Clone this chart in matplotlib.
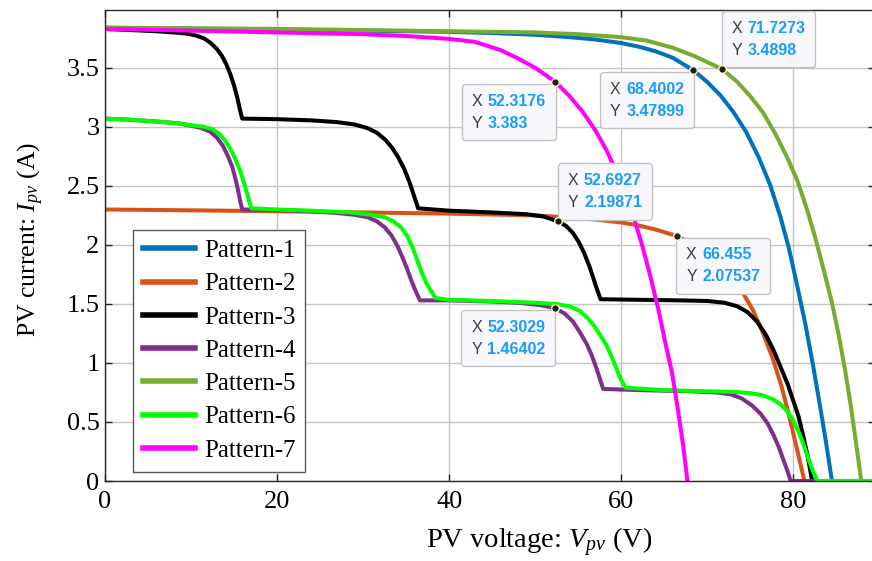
import numpy as np
import matplotlib
matplotlib.use('Agg')
import matplotlib.pyplot as plt
from matplotlib.offsetbox import TextArea, HPacker, VPacker, AnnotationBbox

plt.rcParams['font.family'] = 'Liberation Serif'
plt.rcParams['mathtext.fontset'] = 'custom'
plt.rcParams['mathtext.rm'] = 'Liberation Serif'
plt.rcParams['mathtext.it'] = 'Liberation Serif:italic'

# I-V curves under seven shading patterns (voltage V, current A)
v1 = [0, 10, 20, 30, 40, 45, 50, 54, 57, 60, 62, 64, 66, 68.4002, 70, 71.5, 73, 74.5, 76, 77.3,
      78.5, 79.5, 80.5, 81.4, 82.3, 83.1, 83.8, 84.5, 89.5]
i1 = [3.84, 3.832, 3.824, 3.815, 3.805, 3.795, 3.78, 3.76, 3.74, 3.71, 3.68, 3.64, 3.585, 3.47899, 3.38, 3.27, 3.13, 2.96, 2.74, 2.51,
      2.24, 1.97, 1.64, 1.33, 0.98, 0.64, 0.33, 0, 0]

v2 = [0, 10, 20, 30, 40, 50, 54, 57, 60, 62, 64, 66.455, 68, 69.5, 71, 72.5, 74, 75.3, 76.5, 77.6,
      78.6, 79.5, 80.4, 81.3, 89.5]
i2 = [2.30, 2.293, 2.285, 2.275, 2.265, 2.25, 2.232, 2.215, 2.19, 2.165, 2.13, 2.07537, 2.02, 1.95, 1.86, 1.75, 1.61, 1.45, 1.25, 1.04,
      0.81, 0.56, 0.28, 0, 0]

v3 = [0, 3, 6, 8, 9.5, 10.5, 11.5, 12.3, 13, 13.6, 14.1, 14.6, 15, 15.4, 15.7, 15.95,
      20, 24, 27, 29, 30.5, 31.6, 32.6, 33.4, 34.1, 34.8, 35.4, 35.9, 36.4,
      40, 45, 49, 51, 52.6927, 53.6, 54.4, 55.1, 55.7, 56.3, 56.8, 57.2, 57.6,
      62, 67, 70, 72, 73.5, 74.7, 75.8, 76.8, 77.7, 78.5, 79.3, 80, 80.6, 81.2, 81.7, 82.2, 89.5]
i3 = [3.83, 3.82, 3.81, 3.80, 3.79, 3.775, 3.75, 3.71, 3.66, 3.60, 3.53, 3.44, 3.35, 3.24, 3.14, 3.07,
      3.065, 3.055, 3.04, 3.02, 2.99, 2.95, 2.89, 2.82, 2.74, 2.64, 2.53, 2.42, 2.31,
      2.29, 2.275, 2.26, 2.24, 2.19871, 2.16, 2.10, 2.02, 1.93, 1.82, 1.71, 1.62, 1.54,
      1.535, 1.53, 1.525, 1.51, 1.48, 1.43, 1.35, 1.24, 1.11, 0.97, 0.83, 0.68, 0.55, 0.37, 0.20, 0, 0]

v4 = [0, 3, 6, 8.5, 10, 11.2, 12.2, 13, 13.7, 14.3, 14.8, 15.2, 15.5, 15.75, 15.95,
      20, 24, 27, 29, 30.5, 31.6, 32.5, 33.3, 34, 34.6, 35.1, 35.6, 36.1, 36.6,
      40, 45, 48, 50.6, 52.3029, 53.4, 54.4, 55.2, 56, 56.6, 57.1, 57.5, 57.9,
      62, 68, 71, 72.7, 74, 75.2, 76.2, 77, 77.7, 78.3, 78.8, 79.3, 79.7, 83]
i4 = [3.07, 3.06, 3.045, 3.03, 3.01, 2.99, 2.96, 2.91, 2.84, 2.75, 2.66, 2.55, 2.45, 2.36, 2.30,
      2.295, 2.285, 2.27, 2.255, 2.235, 2.20, 2.15, 2.08, 1.99, 1.89, 1.80, 1.70, 1.61, 1.53,
      1.53, 1.52, 1.51, 1.49, 1.46402, 1.42, 1.35, 1.26, 1.16, 1.06, 0.96, 0.87, 0.78,
      0.77, 0.76, 0.75, 0.735, 0.70, 0.64, 0.57, 0.49, 0.39, 0.29, 0.19, 0.09, 0, 0]

v5 = [0, 10, 20, 30, 40, 50, 55, 60, 63, 66, 68.5, 71.7273, 73.5, 75, 76.5, 78, 79.3, 80.5, 81.6, 82.6,
      83.6, 84.5, 85.3, 86, 86.7, 87.3, 87.9, 89.5]
i5 = [3.84, 3.835, 3.83, 3.82, 3.81, 3.80, 3.785, 3.76, 3.73, 3.67, 3.60, 3.4898, 3.38, 3.26, 3.12, 2.93, 2.74, 2.54, 2.30, 2.05,
      1.77, 1.51, 1.23, 0.95, 0.63, 0.32, 0, 0]

v6 = [0, 3, 6, 8.5, 10, 11.5, 12.5, 13.3, 14, 14.6, 15.2, 15.7, 16.1, 16.5, 16.8, 17,
      20, 24, 28.5, 31, 32.5, 33.5, 34.4, 35.1, 35.8, 36.4, 36.9, 37.4, 37.9, 38.4,
      40, 45, 50, 52.4, 54, 55.2, 56.1, 56.9, 57.6, 58.3, 58.9, 59.4, 59.9, 60.5,
      65, 70, 73, 75, 76.5, 77.7, 78.6, 79.3, 80, 80.6, 81.2, 81.7, 82.2, 82.8, 89.5]
i6 = [3.07, 3.06, 3.045, 3.03, 3.015, 3.0, 2.98, 2.94, 2.88, 2.81, 2.72, 2.63, 2.54, 2.44, 2.36, 2.31,
      2.30, 2.29, 2.275, 2.255, 2.235, 2.20, 2.15, 2.08, 1.97, 1.85, 1.75, 1.67, 1.61, 1.55,
      1.535, 1.525, 1.51, 1.50, 1.48, 1.44, 1.38, 1.31, 1.23, 1.15, 1.05, 0.96, 0.87, 0.79,
      0.77, 0.76, 0.755, 0.745, 0.725, 0.69, 0.645, 0.59, 0.51, 0.42, 0.31, 0.20, 0.10, 0, 0]

v7 = [0, 10, 20, 30, 35, 40, 43, 46, 48, 50, 52.3176, 54, 55.5, 57, 58.3, 59.5, 60.6, 61.6, 62.5,
      63.4, 64.3, 65.1, 65.9, 66.6, 67.2, 67.7]
i7 = [3.83, 3.815, 3.80, 3.785, 3.77, 3.745, 3.72, 3.65, 3.58, 3.50, 3.383, 3.26, 3.13, 2.97, 2.80, 2.61, 2.41, 2.20, 1.98,
      1.73, 1.46, 1.18, 0.92, 0.60, 0.30, 0]

labels = ['Pattern-1', 'Pattern-2', 'Pattern-3', 'Pattern-4', 'Pattern-5', 'Pattern-6', 'Pattern-7']
colors = ['#0072BD', '#D95319', '#000000', '#7E2F8E', '#77AC30', '#00FF00', '#FF00FF']

# data tips: x, y and box offset (points)
tip_x = [52.3176, 68.4002, 71.7273, 52.6927, 66.455, 52.3029]
tip_y = [3.383, 3.47899, 3.4898, 2.19871, 2.07537, 1.46402]
tip_dx = [-33.5, -33.5, 33.5, 33.5, 33.5, -33.5]
tip_dy = [-22, -21.5, 21.5, 21.5, -21.5, -21.5]

fig = plt.figure(figsize=(8.72, 5.61), dpi=100)
ax = fig.add_axes([105/872, 80/561, 770/872, 471/561])

curves = [(v1, i1), (v2, i2), (v3, i3), (v4, i4), (v5, i5), (v6, i6), (v7, i7)]
for (v, i), lab, c in zip(curves, labels, colors):
    ax.plot(v, i, color=c, lw=2.9, label=lab, solid_joinstyle='round')

ax.set_xlim(0, 89.5)
ax.set_ylim(0, 3.99)
ax.set_xticks([0, 20, 40, 60, 80])
ax.set_yticks([0, 0.5, 1, 1.5, 2, 2.5, 3, 3.5])
ax.set_yticklabels(['0', '0.5', '1', '1.5', '2', '2.5', '3', '3.5'])
ax.grid(True, color='#c4c4c4', lw=1)
ax.set_axisbelow(True)
ax.tick_params(direction='in', length=5, width=1, color='#262626', labelsize=19,
               top=True, right=True)
ax.tick_params(axis='x', pad=7)
ax.tick_params(axis='y', pad=4)
for s in ax.spines.values():
    s.set_color('#262626')
    s.set_linewidth(1)

ax.set_xlabel('PV voltage: $V_{pv}$ (V)', fontsize=20.5)
ax.set_ylabel('PV current: $I_{pv}$ (A)', fontsize=18.5)
ax.xaxis.set_label_coords(433/767, -0.093)
ax.yaxis.set_label_coords(-0.076, 0.512)

leg = ax.legend(loc='lower left', bbox_to_anchor=(0.036, 0.02), borderaxespad=0,
                fontsize=18, handlelength=2.1, handletextpad=0.35, labelspacing=0.43,
                borderpad=0.4, fancybox=False, framealpha=1, edgecolor='#5a5a5a')
leg.get_frame().set_linewidth(1)
for h in leg.get_lines():
    h.set_linewidth(4)

for x, y, dx, dy in zip(tip_x, tip_y, tip_dx, tip_dy):
    rows = []
    for name, val in (('X', x), ('Y', y)):
        rows.append(HPacker(children=[
            TextArea(name, textprops=dict(color='#3c3c3c', fontsize=11.5, family='Liberation Sans')),
            TextArea('%.6g' % val, textprops=dict(color='#1a9cff', fontsize=11.5, fontweight='bold',
                                                  family='Liberation Sans'))],
            sep=4, pad=0, align='baseline'))
    box = VPacker(children=rows, sep=5, pad=2, align='left')
    ab = AnnotationBbox(box, (x, y), xybox=(dx, dy), xycoords='data', boxcoords='offset points',
                        box_alignment=(0.5, 0.5), pad=0.5, frameon=True,
                        bboxprops=dict(boxstyle='round,pad=0.5,rounding_size=0.25',
                                       fc='#f8f8fc', ec='#c2c2c2', lw=1))
    ax.add_artist(ab)
    ax.plot(x, y, 'o', ms=5.5, mfc='#1e1e1e', mec='#fff8c8', mew=1, zorder=5)

fig.savefig('out.png', dpi=100)
